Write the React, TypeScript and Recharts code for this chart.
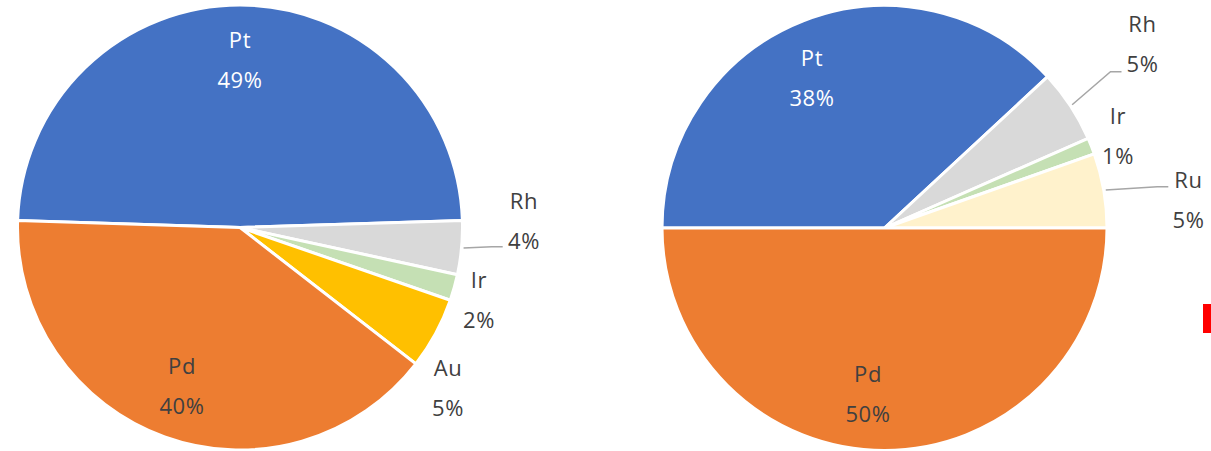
import React from 'react';
import { PieChart, Pie, Cell } from 'recharts';

// ---- data ----
const leftCategories = ['Pt', 'Rh', 'Ir', 'Au', 'Pd'];
const leftValues = [49, 3.9, 1.9, 5.2, 40];
const rightCategories = ['Pt', 'Rh', 'Ir', 'Ru', 'Pd'];
const rightValues = [38.1, 5.3, 1.2, 5.4, 50];

const leftData = leftCategories.map((name, i) => ({ name, value: leftValues[i] }));
const rightData = rightCategories.map((name, i) => ({ name, value: rightValues[i] }));

// ---- style ----
const COLORS: Record<string, string> = {
  Pt: '#4472C4',
  Pd: '#ED7D31',
  Rh: '#D9D9D9',
  Ir: '#C5E0B4',
  Au: '#FFC000',
  Ru: '#FFF2CC',
};
const FONT = '"Open Sans", "DejaVu Sans", sans-serif';
const FONT_SIZE = 22;
const LETTER_SPACING = 0.6;
const LINE_GAP = 40;
const TEXT_DARK = '#404040';
const LEADER = '#A6A6A6';

type LabelCfg = { dx: number; dy: number; color?: string; leader?: [number, number] };

const leftLabelCfg: Record<string, LabelCfg> = {
  Pt: { dx: 0, dy: -168.5, color: '#FFFFFF' },
  Pd: { dx: -58, dy: 157.5 },
  Rh: { dx: 284, dy: -8, leader: [262.7, 19.2] },
  Ir: { dx: 239, dy: 71.5 },
  Au: { dx: 208, dy: 159.5 },
};
const rightLabelCfg: Record<string, LabelCfg> = {
  Pt: { dx: -72.5, dy: -151, color: '#FFFFFF' },
  Pd: { dx: -16.5, dy: 165 },
  Rh: { dx: 258, dy: -185, leader: [237, -156.3] },
  Ir: { dx: 233.5, dy: -93.5 },
  Ru: { dx: 304, dy: -29, leader: [283.8, -41.3] },
};

const RAD = Math.PI / 180;

const makeLabel = (cfgMap: Record<string, LabelCfg>) => (props: any) => {
  const { cx, cy, midAngle, outerRadius, percent } = props;
  const name: string = props.name ?? props.payload?.name;
  const cfg = cfgMap[name];
  if (!cfg) return null;
  const x = cx + cfg.dx;
  const y = cy + cfg.dy;
  const pct = `${Math.round(percent * 100)}%`;
  let leader: React.ReactNode = null;
  if (cfg.leader) {
    const r = outerRadius + 2;
    const sx = cx + r * Math.cos(-midAngle * RAD);
    const sy = cy + r * Math.sin(-midAngle * RAD);
    const ex = cx + cfg.leader[0];
    const ey = cy + cfg.leader[1];
    const kx = ex - 11;
    leader = (
      <polyline
        points={`${sx},${sy} ${kx},${ey} ${ex},${ey}`}
        fill="none"
        stroke={LEADER}
        strokeWidth={1.5}
      />
    );
  }
  const color = cfg.color ?? TEXT_DARK;
  const common = {
    x,
    textAnchor: 'middle' as const,
    dominantBaseline: 'central' as const,
    fill: color,
    fontFamily: FONT,
    fontSize: FONT_SIZE,
    letterSpacing: LETTER_SPACING,
  };
  return (
    <g>
      {leader}
      <text {...common} y={y - LINE_GAP / 2}>
        {name}
      </text>
      <text {...common} y={y + LINE_GAP / 2}>
        {pct}
      </text>
    </g>
  );
};

export default function App() {
  return (
    <div
      style={{
        position: 'absolute',
        left: 0,
        top: 0,
        width: 1211,
        height: 451,
        background: '#FFFFFF',
        overflow: 'hidden',
      }}
    >
      <PieChart width={1211} height={451} margin={{ top: 0, right: 0, bottom: 0, left: 0 }}>
        <Pie
          data={leftData}
          dataKey="value"
          nameKey="name"
          cx={240}
          cy={227.5}
          outerRadius={222.5}
          startAngle={178.2}
          endAngle={-181.8}
          stroke="#FFFFFF"
          strokeWidth={3}
          label={makeLabel(leftLabelCfg)}
          labelLine={false}
          isAnimationActive={false}
        >
          {leftData.map((d) => (
            <Cell key={d.name} fill={COLORS[d.name]} />
          ))}
        </Pie>
        <Pie
          data={rightData}
          dataKey="value"
          nameKey="name"
          cx={884.5}
          cy={228}
          outerRadius={222.5}
          startAngle={180}
          endAngle={-180}
          stroke="#FFFFFF"
          strokeWidth={3}
          label={makeLabel(rightLabelCfg)}
          labelLine={false}
          isAnimationActive={false}
        >
          {rightData.map((d) => (
            <Cell key={d.name} fill={COLORS[d.name]} />
          ))}
        </Pie>
      </PieChart>
      <div
        style={{
          position: 'absolute',
          left: 1203,
          top: 304,
          width: 8,
          height: 29,
          background: '#FF0000',
        }}
      />
    </div>
  );
}
